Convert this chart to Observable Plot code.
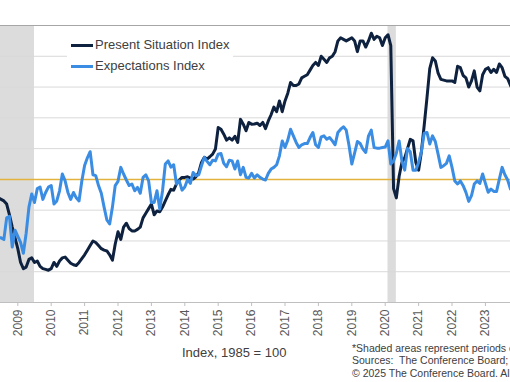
<!DOCTYPE html>
<html>
<head>
<meta charset="utf-8">
<script src="https://cdn.jsdelivr.net/npm/d3@7"></script>
<script src="https://cdn.jsdelivr.net/npm/@observablehq/plot@0.6"></script>
<style>
  html, body { margin: 0; padding: 0; background: #fff; }
  #wrap { position: relative; width: 510px; height: 382px; overflow: hidden; font-family: "Liberation Sans", Arial, sans-serif; color: #404040; }
  .txt { position: absolute; white-space: pre; }
</style>
</head>
<body>
<div id="wrap"></div>
<script>
// Monthly data, first value = June 2008
const startYear = 2008;
const startMonth = 6;

const presentSituation = [
  68, 67, 66, 64, 57, 49, 42,                                         // 2008 Jun-Dec
  35, 26, 22, 23, 28, 29, 26, 27, 23.5, 22, 21.5, 21,                 // 2009
  22, 26, 23.5, 27, 29, 29.5, 27.5, 25.5, 24.5, 24, 26, 28.5,         // 2010
  31, 34, 37, 40, 39, 37, 35, 34, 33.5, 31, 27.5, 38,                 // 2011
  46, 41, 49, 51.5, 48, 46.5, 46.5, 47.5, 49, 55, 58, 61,             // 2012
  64, 57, 59.5, 59, 62, 66, 70, 73.5, 73, 77, 79.6, 81.3,             // 2013
  81.3, 81.7, 80.9, 80.2, 81.7, 84.5, 91, 94.3, 93.2, 94.7, 96.4, 99.7, // 2014
  113.7, 112.6, 109.4, 105.5, 107, 105.5, 108, 104, 119, 115.9, 111.6, 117, // 2015
  115.9, 116, 116.5, 115, 117, 113, 118, 122, 127, 124, 131, 124,     // 2016
  131, 136, 143, 141, 141, 142, 146, 147, 148, 151, 154, 156,         // 2017
  154, 160, 158, 156, 159, 160, 163, 170, 172, 171, 170, 171,         // 2018
  172, 170, 163, 170, 170, 166, 170, 175, 171, 173, 172, 167,         // 2019
  172, 174, 167, 74, 68, 82, 91, 94, 100, 106, 105, 91,               // 2020
  86, 98, 115, 133, 152, 159, 157, 149, 145, 144.5, 144, 144,         // 2021
  144, 143, 153.5, 152.6, 147.5, 146, 140, 144, 150.5, 140, 137.5, 148, // 2022
  151.5, 152.6, 149.5, 151.5, 149.5, 155, 152.6, 147, 145.5, 141, 138 // 2023 Jan-Nov
];

const expectations = [
  42, 42, 41, 55, 56, 36, 47,                                         // 2008 Jun-Dec
  43, 39, 32, 45, 62, 70.5, 65, 74, 75, 67, 71.5, 75,                 // 2009
  76, 64, 66, 72.6, 83.5, 79, 71.5, 67, 71.5, 68, 66, 79,             // 2010
  89, 94, 98, 83, 82.4, 76, 71, 62, 53.6, 51, 62, 76,                 // 2011
  78.7, 87.8, 83.5, 79.6, 76, 77, 72.6, 74.8, 71, 81.3, 83, 79,       // 2012
  65, 65, 72.6, 60.8, 72.6, 90, 92, 88, 89.5, 77, 79, 73,             // 2013
  75, 80, 77.4, 84.5, 82.4, 83, 88.9, 94.3, 91.7, 89.5, 92.5, 92,     // 2014
  96.4, 96.8, 90.4, 88.2, 92.5, 92, 86.7, 92, 83, 87.8, 81.3, 80.9,   // 2015
  83.9, 80.9, 83, 81.3, 80.2, 79.6, 83.9, 86.7, 87.8, 89.5, 95.3, 105, // 2016
  100.7, 105.5, 112.6, 108.3, 104, 100.7, 102.5, 103.3, 103.3, 107.2, 110.5, 102.5, // 2017
  100.7, 107.6, 108.3, 106.1, 107.2, 105, 102.5, 110.5, 112.6, 114.2, 112, 102, // 2018
  90, 97, 104.6, 103.3, 99.7, 97.5, 108.3, 112, 100.7, 100.3, 100.3, 100.7, // 2019
  101, 105, 90, 92, 97, 105, 92, 86, 100, 98, 86, 86,                 // 2020
  91, 98, 110, 110.5, 103, 108.3, 104.6, 96.4, 87.8, 88.9, 90.4, 95.3, // 2021
  87.8, 79, 77, 79, 75.9, 71.6, 65.7, 69.4, 77, 79, 77.4, 83.5,       // 2022
  77.4, 71.6, 73.7, 72.2, 72.2, 80.2, 87.8, 83, 79.6, 73.7, 75        // 2023 Jan-Nov
];

const yearTicks = [2009, 2010, 2011, 2012, 2013, 2014, 2015, 2016, 2017, 2018, 2019, 2020, 2021, 2022, 2023];
const yGrid = [20, 40, 60, 100, 120, 140, 160];
const recessions = [
  {start: 2007 + 11/12, end: 2009.5},
  {start: 2020 + 1/12, end: 2020 + 4/12}
];
const threshold = 80;
const seriesNames = ["Present Situation Index", "Expectations Index"];
const colors = ["#0e2240", "#3a8de3"];

const toRows = (arr) => arr.map((v, i) => ({t: startYear + (startMonth - 1 + i) / 12, v}));
const presentRows = toRows(presentSituation);
const expRows = toRows(expectations);

const chart = Plot.plot({
  width: 510,
  height: 382,
  marginTop: 25,
  marginBottom: 80,
  marginLeft: 0,
  marginRight: 0,
  style: {fontFamily: '"Liberation Sans", Arial, sans-serif', fontSize: "12px", background: "transparent"},
  x: {type: "linear", domain: [2008.482, 2023.751]},
  y: {domain: [0, 180], axis: null},
  marks: [
    Plot.rect(recessions, {x1: "start", x2: "end", fill: "#dcdcdc", clip: true}),
    Plot.ruleY(yGrid, {stroke: "#d9d9d9", strokeWidth: 1}),
    Plot.ruleY([180], {stroke: "#a6a6a6", strokeWidth: 1}),
    Plot.ruleY([0], {stroke: "#bfbfbf", strokeWidth: 1}),
    Plot.ruleY([threshold], {stroke: "#e3b23c", strokeWidth: 1.5}),
    Plot.line(presentRows, {x: "t", y: "v", stroke: colors[0], strokeWidth: 3, clip: true}),
    Plot.line(expRows, {x: "t", y: "v", stroke: colors[1], strokeWidth: 3, clip: true}),
    Plot.axisX(yearTicks, {
      tickRotate: -90, tickSize: 4, tickPadding: 3,
      tickFormat: d => String(d),
      stroke: "#bfbfbf", fill: "#595959", fontSize: 12
    })
  ]
});

const wrap = document.getElementById("wrap");
wrap.appendChild(chart);

function addText(text, left, top, size, color) {
  const d = document.createElement("div");
  d.className = "txt";
  d.textContent = text;
  d.style.left = left + "px";
  d.style.top = top + "px";
  d.style.fontSize = size + "px";
  d.style.lineHeight = "1";
  if (color) d.style.color = color;
  wrap.appendChild(d);
  return d;
}

// legend
const box = document.createElement("div");
box.style.cssText = "position:absolute;left:67px;top:29px;width:166px;height:47px;background:#fff;";
wrap.appendChild(box);
[45, 66].forEach((cy, i) => {
  const sw = document.createElement("div");
  sw.style.cssText = `position:absolute;left:71px;top:${cy - 1.5}px;width:22px;height:3px;background:${colors[i]};`;
  wrap.appendChild(sw);
  addText(seriesNames[i], 95, cy - 7, 13, "#404040");
});

addText("Index, 1985 = 100", 182, 346, 13, "#404040");
addText("*Shaded areas represent periods of recession.", 352, 342.5, 10.5, "#404040");
addText("Sources:  The Conference Board; NBER", 352, 355, 10.5, "#404040");
addText("\u00A9 2025 The Conference Board. All rights reserved.", 352, 367.5, 10.5, "#404040");
</script>
</body>
</html>
